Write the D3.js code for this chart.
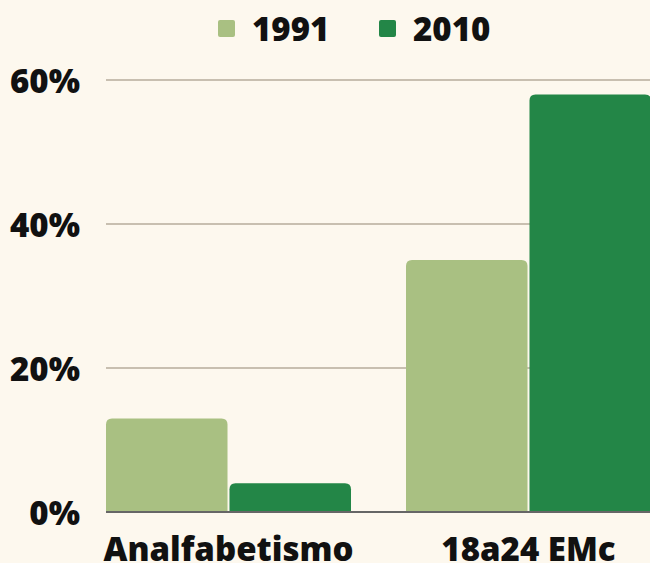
<!doctype html>
<html>
<head>
<script src="https://cdn.jsdelivr.net/npm/d3@7"></script>
<style>
  body { margin: 0; background: #fdf8ee; }
  text { font-family: "Open Sans", sans-serif; font-weight: 800; fill: #111; }
</style>
</head>
<body>
<svg width="650" height="563"></svg>
<script>
const categories = ["Analfabetismo", "18a24 EMc"];
const years = ["1991", "2010"];
const values1991 = [13, 35];
const values2010 = [4, 58];
const yTicks = [0, 20, 40, 60];
const colors = ["#a9c082", "#238647"];

const svg = d3.select("svg");

const y = d3.scaleLinear().domain([0, 60]).range([512, 80]);
const x0 = d3.scaleBand().domain(categories).range([106, 651]).paddingInner(55 / 300).paddingOuter(0).align(0);
const x1 = d3.scaleBand().domain(years).range([0, x0.bandwidth()]).paddingInner(0.016);
const color = d3.scaleOrdinal().domain(years).range(colors);

// grid lines
svg.append("g").selectAll("line")
  .data(yTicks.filter(d => d > 0))
  .enter().append("line")
    .attr("x1", 106).attr("x2", 650)
    .attr("y1", d => y(d)).attr("y2", d => y(d))
    .attr("stroke", "#c8bfb0").attr("stroke-width", 2);

// y labels
svg.append("g").selectAll("text")
  .data(yTicks)
  .enter().append("text")
    .attr("x", 80).attr("y", d => y(d) + 13)
    .attr("text-anchor", "end")
    .style("font-size", "33px")
    .text(d => d + "%");

const rows = categories.map((c, i) => ({
  cat: c,
  vals: [{ year: "1991", v: values1991[i] }, { year: "2010", v: values2010[i] }]
}));

function topRounded(x, yTop, w, yBase, r) {
  return `M${x},${yBase}V${yTop + r}Q${x},${yTop} ${x + r},${yTop}H${x + w - r}Q${x + w},${yTop} ${x + w},${yTop + r}V${yBase}Z`;
}

svg.append("g").selectAll("g")
  .data(rows)
  .enter().append("g")
    .attr("transform", d => "translate(" + x0(d.cat) + ",0)")
  .selectAll("path")
  .data(d => d.vals)
  .enter().append("path")
    .attr("d", d => topRounded(x1(d.year), y(d.v), x1.bandwidth(), y(0), 6))
    .attr("fill", d => color(d.year));

// baseline
svg.append("line")
  .attr("x1", 106).attr("x2", 650)
  .attr("y1", y(0)).attr("y2", y(0))
  .attr("stroke", "#666").attr("stroke-width", 2);

// x labels
svg.append("g").selectAll("text")
  .data(categories)
  .enter().append("text")
    .attr("x", d => x0(d) + x0.bandwidth() / 2)
    .attr("y", 561)
    .attr("text-anchor", "middle")
    .style("font-size", "33px")
    .text(d => d);

// legend
const legendX = [218, 379];
const lg = svg.append("g").selectAll("g")
  .data(years)
  .enter().append("g")
    .attr("transform", (d, i) => "translate(" + legendX[i] + ",20)");
lg.append("rect").attr("width", 17).attr("height", 17).attr("rx", 2)
  .attr("fill", d => color(d));
lg.append("text").attr("x", 34).attr("y", 21)
  .style("font-size", "33px")
  .text(d => d);
</script>
</body>
</html>
